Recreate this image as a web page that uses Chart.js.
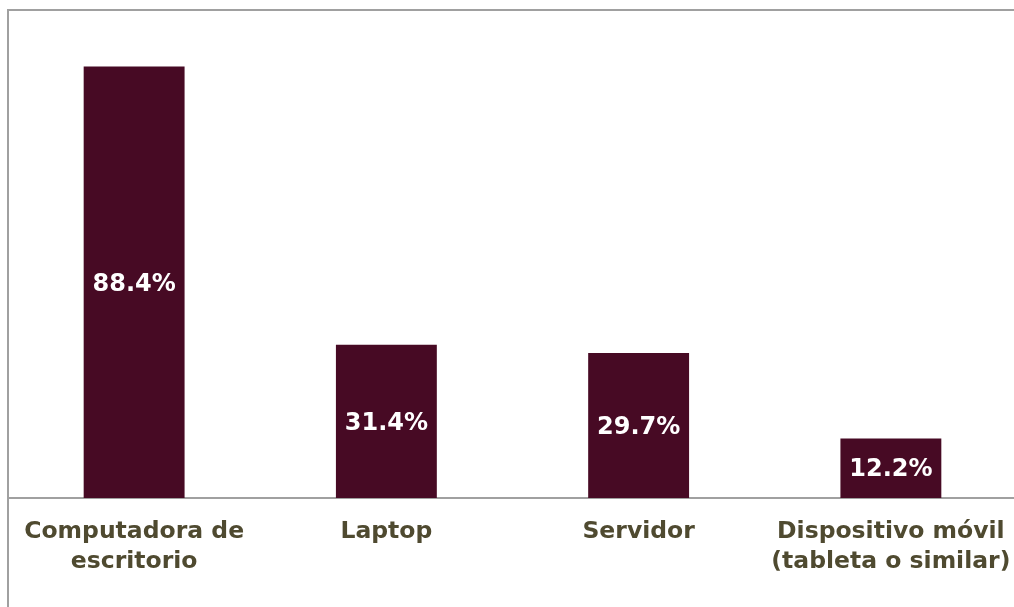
<!DOCTYPE html>
<html>
<head>
<meta charset="utf-8">
<script src="https://cdn.jsdelivr.net/npm/chart.js@4"></script>
<style>
  body { margin: 0; overflow: hidden; background: #fff; width: 1014px; height: 607px; position: relative; }
  #frame { position: absolute; left: 7px; top: 9px; width: 1100px; height: 700px;
           border-top: 2px solid #a0a0a0; border-left: 2px solid #a0a0a0; }
  #wrap { position: absolute; left: 0; top: 0; width: 1020px; height: 607px; }
</style>
</head>
<body>
<div id="frame"></div>
<div id="wrap"><canvas id="chart"></canvas></div>
<script>
const categories = [
  ["Computadora de", "escritorio"],
  ["Laptop"],
  ["Servidor"],
  ["Dispositivo móvil", "(tableta o similar)"]
];
const values = [88.4, 31.4, 29.7, 12.2];

const barColor = "#470a24";
const textColor = "#4f4a30";

// white percentage labels centred in each bar
const barLabels = {
  id: "barLabels",
  afterDatasetsDraw(chart) {
    const ctx = chart.ctx;
    const meta = chart.getDatasetMeta(0);
    ctx.save();
    ctx.fillStyle = "#ffffff";
    ctx.font = "bold 24px 'DejaVu Sans'";
    ctx.textAlign = "center";
    ctx.textBaseline = "middle";
    meta.data.forEach((bar, i) => {
      const p = bar.getProps(["x", "y", "base"], true);
      ctx.fillText(values[i].toFixed(1) + "%", p.x, (p.y + p.base) / 2 + 2);
    });
    ctx.restore();
  }
};

function drawChart() {
  new Chart(document.getElementById("chart"), {
    type: "bar",
    data: {
      labels: categories,
      datasets: [
        {
          data: values,
          backgroundColor: barColor,
          barPercentage: 0.4,
          categoryPercentage: 1,
        },
      ],
    },
    options: {
      responsive: true,
      maintainAspectRatio: false,
      animation: false,
      layout: { padding: { left: 8, right: 3, top: 10, bottom: 0 } },
      plugins: {
        legend: { display: false },
        tooltip: { enabled: false },
      },
      scales: {
        x: {
          grid: { display: false, drawTicks: false },
          border: { display: true, color: "#a0a0a0", width: 2 },
          ticks: {
            color: textColor,
            font: { family: "DejaVu Sans", size: 23.5, weight: "bold", lineHeight: 1.28 },
            padding: 19,
            maxRotation: 0,
            autoSkip: false,
          },
          afterFit(scale) {
            scale.height = 109;
            scale.paddingLeft = 0;
            scale.paddingRight = 0;
          },
        },
        y: {
          display: false,
          min: 0,
          max: 100,
        },
      },
    },
    plugins: [barLabels],
  });
}

window.addEventListener("load", drawChart);
</script>
</body>
</html>
